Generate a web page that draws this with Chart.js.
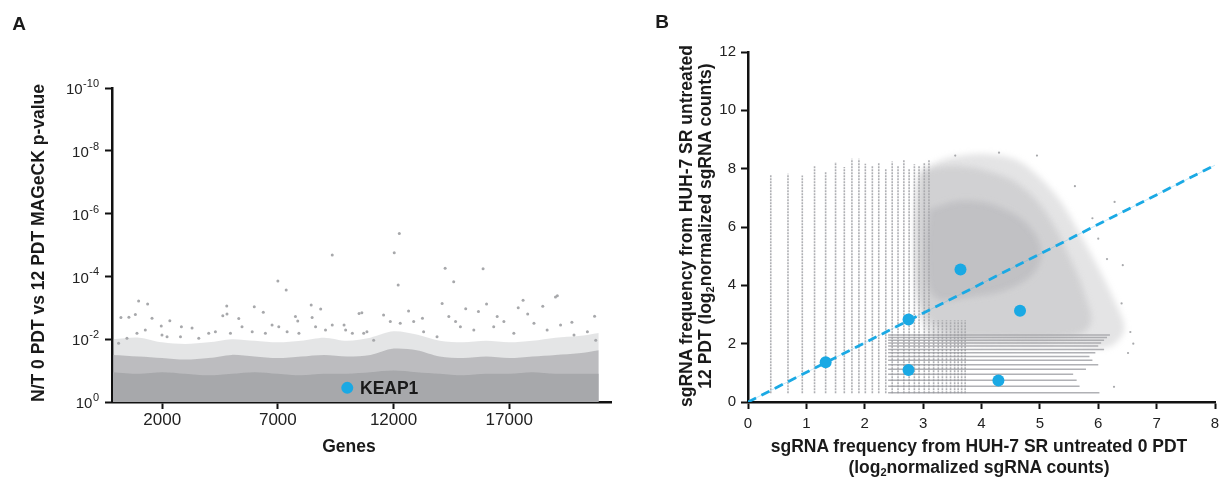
<!DOCTYPE html>
<html>
<head>
<meta charset="utf-8">
<script src="https://cdn.jsdelivr.net/npm/chart.js@4.4.1/dist/chart.umd.min.js"></script>
<style>
  body { margin: 0; background: #fff; width: 1229px; height: 479px; position: relative; overflow: hidden;
         font-family: "Liberation Sans", Arial, sans-serif; color: #1a1a1a; }
  canvas { position: absolute; top: 0; }
  #chartA { left: 0; }
  #chartB { left: 640px; }
  .t { position: absolute; font-weight: bold; font-size: 17.5px; line-height: 20px; white-space: nowrap; text-align: center; }
  .c { transform: translate(-50%, -50%); }
  .r { transform: translate(-50%, -50%) rotate(-90deg); }
  .panel { font-size: 19px; line-height: 19px; }
  sub { font-size: 11px; vertical-align: -3px; line-height: 0; }
</style>
</head>
<body>
<canvas id="chartA" width="640" height="479"></canvas>
<canvas id="chartB" width="589" height="479"></canvas>

<div class="t panel c" style="left:19px;top:23px">A</div>
<div class="t panel c" style="left:662px;top:21px">B</div>
<div class="t r" style="left:38px;top:243px">N/T 0 PDT vs 12 PDT MAGeCK p-value</div>
<div class="t c" style="left:349px;top:446px">Genes</div>
<div class="t" style="left:360px;top:388px;transform:translateY(-50%)">KEAP1</div>
<div class="t r" style="left:696px;top:226px;line-height:19px">sgRNA frequency from HUH-7 SR untreated<br>12 PDT (log<sub>2</sub>normalized sgRNA counts)</div>
<div class="t c" style="left:979px;top:457px;line-height:21px">sgRNA frequency from HUH-7 SR untreated 0 PDT<br>(log<sub>2</sub>normalized sgRNA counts)</div>

<script>
const family = '"Liberation Sans", Arial, sans-serif';
Chart.defaults.font.family = family;

// ---- panel A: MAGeCK gene p-values (-log10) ----
const geneTicks = [2000, 7000, 12000, 17000];
const pExponents = [0, 2, 4, 6, 8, 10];
const bandGenes = [-130, 1000, 2000, 3000, 4000, 5000, 6000, 7000, 8000, 9000, 10000,
  11000, 12000, 13000, 14000, 15000, 16000, 17000, 18000, 19000, 20000, 20870];
const bandCore = [0.95, 0.9, 0.95, 0.9, 0.85, 0.9, 0.95, 0.9, 0.85, 0.9, 0.9,
  0.95, 1.0, 0.95, 0.9, 0.85, 0.9, 0.9, 0.95, 0.9, 0.9, 0.9];
const bandMid = [1.5, 1.45, 1.4, 1.35, 1.4, 1.5, 1.45, 1.4, 1.45, 1.5, 1.45,
  1.5, 1.7, 1.65, 1.45, 1.4, 1.45, 1.4, 1.45, 1.5, 1.55, 1.65];
const bandOuter = [2.0, 2.05, 1.9, 1.85, 1.9, 2.0, 1.95, 1.9, 1.95, 2.05, 1.95,
  2.05, 2.25, 2.15, 1.95, 1.9, 1.95, 1.9, 1.95, 2.05, 2.1, 2.2];
const outlierGenes = [12250, 12030, 9350, 12200, 7000, 7360, 980, 1370, 560, 215, 1560, 840,
  2330, 4790, 4620, 4800, 5980, 6370, 5310, 2830, 3290, 1960, 8440, 8850, 7760, 7860, 8480,
  9860, 10630, 12650, 11570, 10850, 14230, 15870, 14600, 14100, 16020, 17600, 17390, 19000,
  19080, 18450, 17800, 15120, 15670, 14390, 13250, 20690, 19710, 16480,
  115, 476, 909, 1270, 1990, 2210, 2790, 3580, 4010, 4300, 4950, 5450, 5890, 6460, 6750,
  7040, 7400, 7910, 8630, 9060, 9350, 9930, 10220, 10510, 10710, 11140, 11860, 12290, 12870,
  13300, 13880, 14680, 14890, 15470, 16330, 16770, 17200, 18070, 18640, 19220, 19800, 20380, 20740];
const outlierScores = [5.37, 4.75, 4.68, 3.73, 3.85, 3.57, 3.22, 3.12, 2.70, 2.69, 2.67, 2.79,
  2.59, 3.06, 2.75, 2.80, 3.03, 2.86, 2.66, 2.40, 2.36, 2.42, 3.09, 2.96, 2.72, 2.58, 2.69,
  2.45, 2.84, 2.90, 2.77, 2.24, 4.26, 4.24, 3.83, 3.14, 3.12, 3.24, 3.00, 3.34,
  3.38, 3.05, 2.80, 2.97, 2.88, 2.72, 2.67, 2.73, 2.54, 2.72,
  1.87, 2.03, 2.19, 2.29, 2.13, 2.08, 2.08, 2.03, 2.19, 2.24, 2.19, 2.40, 2.24, 2.19, 2.45,
  2.40, 2.24, 2.19, 2.40, 2.29, 2.45, 2.29, 2.19, 2.82, 2.19, 1.97, 2.56, 2.51, 2.56,
  2.24, 2.08, 2.56, 2.40, 2.29, 2.40, 2.56, 2.19, 2.51, 2.29, 2.45, 2.13, 2.24, 1.97];
const hitGenes = [10000];
const hitScores = [0.45];

// ---- panel B: sgRNA log2 counts, 12 PDT vs 0 PDT ----
const stripeX = [0.39, 0.685, 0.93, 1.14, 1.33, 1.50, 1.65, 1.78, 1.90, 2.01, 2.13, 2.24, 2.36,
  2.47, 2.57, 2.67, 2.76, 2.85, 2.93, 3.02, 3.10, 3.18, 3.26, 3.33, 3.40, 3.47, 3.54, 3.60, 3.66, 3.72];
const stripeTop = [7.81, 7.83, 7.77, 8.12, 7.89, 8.23, 8.06, 8.34, 8.34, 8.17, 8.1, 8.2, 8.0,
  8.25, 8.1, 8.3, 8.0, 8.15, 8.1, 8.2, 8.3, 2.8, 2.8, 2.8, 2.8, 2.8, 2.8, 2.8, 2.8, 2.8];
const stripeFloor = 0.3;
const rowY = [0.32, 0.54, 0.75, 0.95, 1.12, 1.28, 1.43, 1.56, 1.69, 1.80, 1.92, 2.02, 2.12, 2.21, 2.30];
const rowEnd = [6.02, 5.68, 5.63, 5.57, 5.79, 6.0, 5.9, 5.85, 5.95, 6.1, 6.0, 6.05, 6.1, 6.15, 6.2];
const rowStart = 2.4;
const cloudOuterX = [3.0, 3.4, 4.0, 4.6, 5.0, 5.35, 5.65, 5.95, 6.25, 6.45, 6.2, 5.5, 4.5, 3.6, 3.1, 2.9, 2.85, 2.9];
const cloudOuterY = [8.0, 8.35, 8.5, 8.3, 7.7, 6.9, 5.9, 4.8, 3.6, 2.5, 1.9, 1.9, 1.9, 2.0, 2.3, 3.5, 6.0, 7.5];
const cloudMidX = [2.95, 3.5, 4.3, 4.8, 5.2, 5.5, 5.75, 5.85, 5.3, 4.3, 3.4, 3.0, 2.9];
const cloudMidY = [7.9, 8.1, 7.8, 7.2, 6.2, 5.0, 3.8, 2.6, 2.2, 2.2, 2.4, 3.2, 5.0];
const cloudCoreX = [3.1, 3.7, 4.4, 4.9, 5.0, 4.6, 3.8, 3.2, 3.05];
const cloudCoreY = [6.6, 6.9, 6.6, 5.8, 4.8, 4.0, 3.6, 3.6, 5.0];
const strayX = [6.28, 6.42, 6.40, 6.51, 6.27, 5.9, 6.0, 4.95, 4.3, 3.55, 6.55, 6.15, 5.6, 6.6];
const strayY = [6.86, 4.69, 3.38, 1.68, 0.52, 6.3, 5.6, 8.45, 8.55, 8.45, 2.4, 4.9, 7.4, 2.0];
const guideX = [1.33, 2.75, 2.75, 3.64, 4.66, 4.29];
const guideY = [1.36, 2.83, 1.10, 4.54, 3.13, 0.74];
const diagX = [0, 8];
const diagY = [0, 8.12];

const gray = '#a7a8ab';
const blue = '#1aa9e4';

function pts(xs, ys) {
  return xs.map((x, i) => ({ x: x, y: ys[i] }));
}
function closed(xs, ys) {
  const p = pts(xs, ys);
  p.push(p[0]);
  return p;
}

function axis(opts) {
  return Object.assign({
    type: 'linear',
    grid: { drawOnChartArea: false, drawTicks: true, tickLength: 7, tickWidth: 2, tickColor: '#111' },
    border: { display: true, color: '#111', width: 2.5 },
    ticks: { color: '#222', font: { size: 15 }, maxRotation: 0, autoSkip: false }
  }, opts);
}

// superscript labels for the log p-value axis
const powerLabels = {
  id: 'powerLabels',
  afterDraw(chart) {
    const { ctx, scales: { y } } = chart;
    ctx.save();
    ctx.fillStyle = '#222';
    ctx.textAlign = 'right';
    ctx.textBaseline = 'middle';
    pExponents.forEach(e => {
      const py = y.getPixelForValue(e);
      const sup = e === 0 ? '0' : '-' + e;
      ctx.font = '11px ' + family;
      const w = ctx.measureText(sup).width;
      ctx.fillText(sup, 99, py - 4);
      ctx.font = '15px ' + family;
      ctx.fillText('10', 99 - w - 0.5, py + 2);
    });
    ctx.restore();
  }
};

// soften the density cloud: blur switches on after the empty 'blurOn' marker
// dataset and off again after the innermost cloud layer
const softCloud = {
  id: 'softCloud',
  afterDatasetDraw(chart, args) {
    const tag = chart.data.datasets[args.index].tag;
    if (tag === 'blurOn') chart.ctx.filter = 'blur(3px)';
    if (tag === 'blurOff') chart.ctx.filter = 'none';
  }
};

const common = {
  responsive: false,
  animation: false,
  events: [],
  plugins: { legend: { display: false }, tooltip: { enabled: false } }
};

new Chart(document.getElementById('chartA'), {
  type: 'line',
  data: {
    datasets: [
      { data: pts(hitGenes, hitScores), showLine: false, pointRadius: 6, pointBackgroundColor: blue, pointBorderWidth: 0, order: 0 },
      { data: pts(outlierGenes, outlierScores), showLine: false, pointRadius: 1.5, pointBackgroundColor: gray, pointBorderWidth: 0, order: 1 },
      { data: pts(bandGenes, bandCore), borderWidth: 0, pointRadius: 0, fill: 'origin', backgroundColor: gray, tension: 0.3, order: 2 },
      { data: pts(bandGenes, bandMid), borderWidth: 0, pointRadius: 0, fill: 'origin', backgroundColor: 'rgba(167,168,171,0.65)', tension: 0.3, order: 3 },
      { data: pts(bandGenes, bandOuter), borderWidth: 0, pointRadius: 0, fill: 'origin', backgroundColor: 'rgba(167,168,171,0.3)', tension: 0.3, order: 4 }
    ]
  },
  options: Object.assign({}, common, {
    layout: { padding: { top: 88, right: 29, left: 0, bottom: 0 } },
    scales: {
      x: axis({
        min: -170, max: 21400,
        afterBuildTicks: s => { s.ticks = geneTicks.map(v => ({ value: v })); },
        afterFit: s => { s.height = 77; },
        ticks: { color: '#222', font: { size: 17 }, maxRotation: 0, autoSkip: false, padding: 1, callback: v => String(v) }
      }),
      y: axis({
        min: 0, max: 10,
        afterBuildTicks: s => { s.ticks = pExponents.map(v => ({ value: v })); },
        afterFit: s => { s.width = 112; },
        ticks: { callback: () => '' }
      })
    }
  }),
  plugins: [powerLabels]
});

const stripeSets = stripeX.map((x, i) => ({
  data: [{ x: x, y: stripeFloor }, { x: x, y: stripeTop[i] }],
  borderColor: 'rgba(160,161,166,0.85)', borderWidth: 1.6, borderDash: [2, 1], pointRadius: 0, order: 20
}));
const rowSets = rowY.map((y, i) => ({
  data: [{ x: rowStart, y: y }, { x: rowEnd[i], y: y }],
  borderColor: 'rgba(150,151,156,0.75)', borderWidth: 1.5, pointRadius: 0, order: 19
}));

new Chart(document.getElementById('chartB'), {
  type: 'line',
  data: {
    datasets: [
      { data: pts(guideX, guideY), showLine: false, pointRadius: 6, pointBackgroundColor: blue, pointBorderWidth: 0, order: 0 },
      { data: pts(diagX, diagY), borderColor: blue, borderWidth: 2.8, borderDash: [9, 6], pointRadius: 0, order: 1 },
      { data: pts(diagX, diagY), borderColor: 'rgba(26,169,228,0.25)', borderWidth: 1, pointRadius: 0, order: 2 },
      { data: pts(strayX, strayY), showLine: false, pointRadius: 1.1, pointBackgroundColor: gray, pointBorderWidth: 0, order: 3 },
      { tag: 'blurOff', data: closed(cloudCoreX, cloudCoreY), borderWidth: 0, pointRadius: 0, fill: 'shape', backgroundColor: 'rgba(165,166,170,0.38)', tension: 0.4, order: 4 },
      { data: closed(cloudMidX, cloudMidY), borderWidth: 0, pointRadius: 0, fill: 'shape', backgroundColor: 'rgba(165,166,170,0.3)', tension: 0.4, order: 5 },
      { data: closed(cloudOuterX, cloudOuterY), borderWidth: 0, pointRadius: 0, fill: 'shape', backgroundColor: 'rgba(165,166,170,0.3)', tension: 0.3, order: 6 },
      { tag: 'blurOn', data: [], pointRadius: 0, borderWidth: 0, order: 7 }
    ].concat(rowSets, stripeSets)
  },
  options: Object.assign({}, common, {
    layout: { padding: { top: 52, right: 14, left: 0, bottom: 0 } },
    scales: {
      x: axis({
        min: 0, max: 8,
        afterFit: s => { s.height = 77; },
        ticks: { color: '#222', font: { size: 15 }, stepSize: 1, maxRotation: 0, autoSkip: false, padding: 6 }
      }),
      y: axis({
        min: 0, max: 12,
        afterFit: s => { s.width = 108; },
        ticks: { color: '#222', font: { size: 15 }, stepSize: 2, padding: 5 }
      })
    }
  }),
  plugins: [softCloud]
});
</script>
</body>
</html>
